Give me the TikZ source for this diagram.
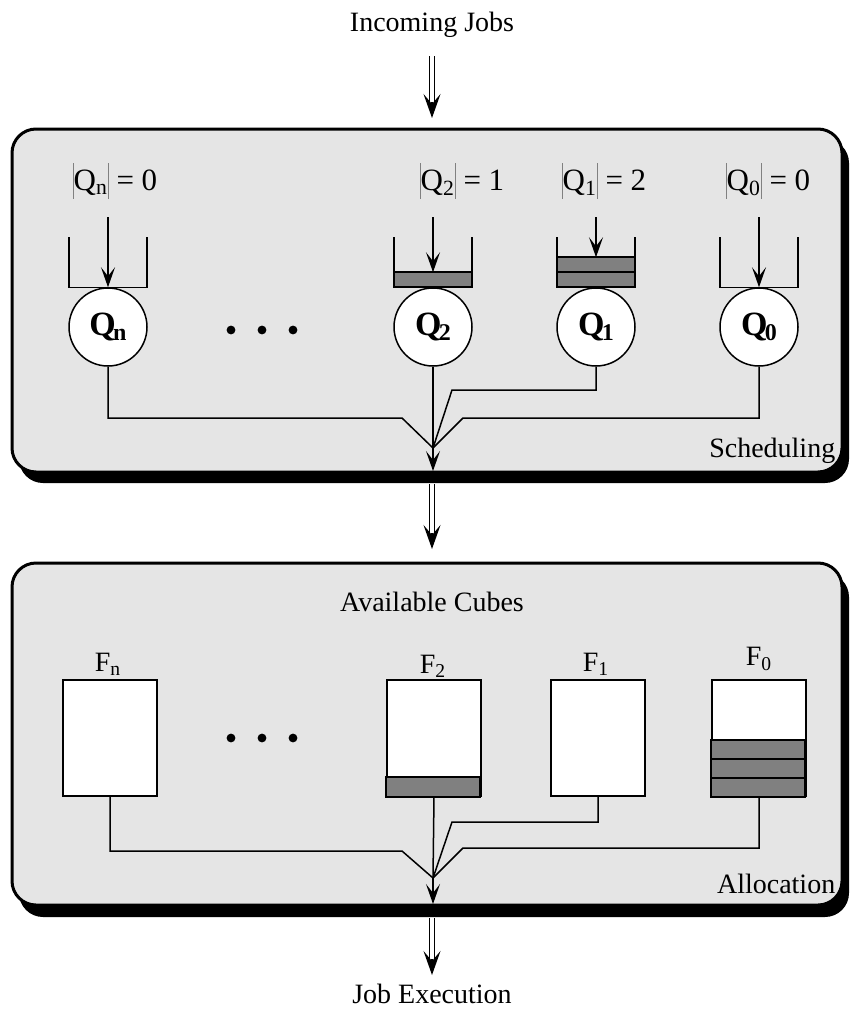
\documentclass[tikz,border=0pt]{standalone}
\usepackage{fontspec}
\setmainfont{Liberation Serif}
\usetikzlibrary{arrows.meta}

\tikzset{every picture/.style={line width=0.75pt}}
\definecolor{panelgray}{RGB}{229,229,229}
\definecolor{jobgray}{RGB}{128,128,128}
\newcommand{\vbar}{\textcolor{gray}{\rule[-0.26em]{0.45pt}{1.14em}}}
\newcommand{\qlen}[2]{{\fontsize{15.5}{17}\selectfont\vbar Q\textsubscript{#1}\vbar\ = #2}}
\newcommand{\qname}[1]{{\fontsize{17}{17}\selectfont\bfseries Q\kern-0.08em\raisebox{-0.3ex}{\fontsize{12}{12}\selectfont #1}}}

\begin{document}
\begin{tikzpicture}[x=0.5pt,y=-0.5pt,
	>={Stealth[length=10pt,width=7pt,inset=4.5pt]},
	txt/.style={font=\fontsize{14}{16}\selectfont,inner sep=0pt},
	panel/.style={draw,line width=1.5pt,rounded corners=12pt,fill=panelgray},
	panelshadow/.style={fill=black,rounded corners=12pt},
	server/.style={circle,draw,fill=white,minimum size=39pt,inner sep=0pt},
	cube/.style={rectangle,draw,fill=white,minimum width=47pt,minimum height=58pt,inner sep=0pt},
	job/.style={draw,line width=1pt,fill=jobgray},
	dblline/.style={double,double distance=1.6pt,line width=0.6pt,shorten >=6pt},
	dbltip/.style={line width=0.75pt,-{Stealth[length=12pt,width=8.5pt,inset=5pt]}}]
	\useasboundingbox (0,0) rectangle (854,1011);
	%Incoming jobs
	\node[txt] (incoming) at (432,25) {Incoming Jobs};
	\coordinate (schedin) at (432,118);
	\draw[dblline,shorten <=9pt] (incoming.south) -- (schedin);
	\draw[dbltip] ([yshift=8pt]schedin) -- (schedin);
	%Khung scheduling
	\fill[panelshadow] (19,139) rectangle (849,483);
	\filldraw[panel] (12,129) rectangle (842,472);
	\node[txt,anchor=east] (sched) at (836,451) {Scheduling};
	%Queue lengths
	\node[txt] (lenn) at (115,181) {\qlen{n}{0}};
	\node[txt] (len2) at (462,181) {\qlen{2}{1}};
	\node[txt] (len1) at (604,181) {\qlen{1}{2}};
	\node[txt] (len0) at (768,181) {\qlen{0}{0}};
	%Servers
	\node[server] (qn) at (108,327) {\qname{n}};
	\node[server] (q2) at (433,327) {\qname{2}};
	\node[server] (q1) at (596,327) {\qname{1}};
	\node[server] (q0) at (759,327) {\qname{0}};
	%Queue bars
	\draw[job] ([xshift=-19.5pt]q2.north) rectangle ++(78,-15);
	\draw[job] ([xshift=-19.5pt]q1.north) rectangle ++(78,-15);
	\draw[job] ([xshift=-19.5pt,yshift=7.5pt]q1.north) rectangle ++(78,-15);
	%Cups
	\foreach \q in {qn,q2,q1,q0}
		\draw ([xshift=-19.5pt]\q.north) ++(0,-50) -- ++(0,50) -- ++(78,0) -- ++(0,-50);
	%Arrows into queues
	\draw[->] ([yshift=35pt]qn.north) -- (qn.north);
	\draw[->] ([yshift=35pt]q2.north) -- ([yshift=7.5pt]q2.north);
	\draw[->] ([yshift=35pt]q1.north) -- ([yshift=15pt]q1.north);
	\draw[->] ([yshift=35pt]q0.north) -- (q0.north);
	%Dots
	\foreach \x in {231,262,293} \fill (\x,330) circle (2.2pt);
	%Merge scheduling
	\coordinate (merge1) at (433,448);
	\coordinate (schedout) at (433,471);
	\draw (qn.south) |- (402,418) -- (merge1);
	\draw (q2.south) -- (merge1);
	\draw (q1.south) |- (452,390) -- (merge1);
	\draw (q0.south) |- (463,418) -- (merge1);
	\draw[->] (merge1) -- (schedout);
	%Mui ten giua
	\coordinate (schedbot) at (432,484);
	\coordinate (allocin) at (432,549);
	\draw[dblline] (schedbot) -- (allocin);
	\draw[dbltip] ([yshift=8pt]allocin) -- (allocin);
	%Khung allocation
	\fill[panelshadow] (19,573) rectangle (849,917);
	\filldraw[panel] (12,563) rectangle (842,905);
	\node[txt] (avail) at (432,602) {Available Cubes};
	\node[txt,anchor=east] (alloc) at (836,884) {Allocation};
	%Cubes
	\node[cube] (fn) at (110,738) {};
	\node[cube] (f2) at (434,738) {};
	\node[cube] (f1) at (598,738) {};
	\node[cube] (f0) at (759,738) {};
	\node[txt] at (108,664) {F\textsubscript{n}};
	\node[txt] at (433,666) {F\textsubscript{2}};
	\node[txt] at (596,664) {F\textsubscript{1}};
	\node[txt] at (759,659) {F\textsubscript{0}};
	%Allocated parts
	\draw[job] (f2.south west) rectangle ++(94,-20);
	\draw[job] (f0.south west) rectangle ++(94,-19);
	\draw[job] ([yshift=9.5pt]f0.south west) rectangle ++(94,-19);
	\draw[job] ([yshift=19pt]f0.south west) rectangle ++(94,-19);
	%Dots
	\foreach \x in {231,262,293} \fill (\x,738) circle (2.2pt);
	%Merge allocation
	\coordinate (merge2) at (433,878);
	\coordinate (allocout) at (433,904);
	\draw (fn.south) |- (402,851) -- (merge2);
	\draw (f2.south) -- (merge2);
	\draw (f1.south) |- (452,822) -- (merge2);
	\draw (f0.south) |- (463,848) -- (merge2);
	\draw[->] (merge2) -- (allocout);
	%Job execution
	\coordinate (allocbot) at (432,918);
	\coordinate (execin) at (432,975);
	\node[txt] (exec) at (432,994) {Job Execution};
	\draw[dblline] (allocbot) -- (execin);
	\draw[dbltip] ([yshift=8pt]execin) -- (execin);
\end{tikzpicture}
\end{document}
